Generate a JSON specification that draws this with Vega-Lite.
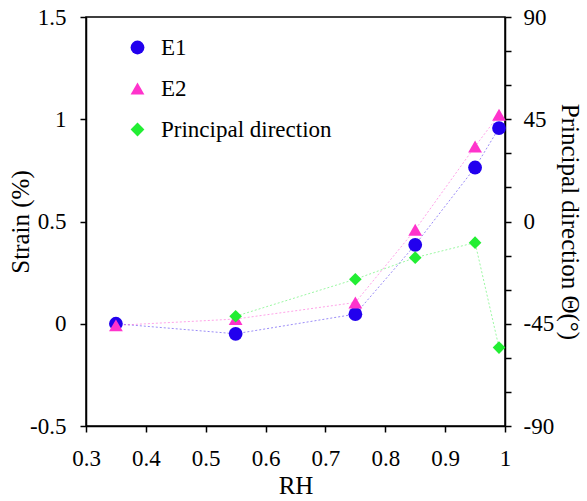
{
  "$schema": "https://vega.github.io/schema/vega-lite/v6.json",
  "width": 419,
  "height": 409,
  "autosize": {"type": "none"},
  "padding": {"left": 86, "top": 17, "right": 82, "bottom": 75},
  "background": "white",
  "config": {
    "font": "Liberation Serif",
    "view": {"stroke": "black", "strokeWidth": 1.5},
    "axis": {
      "grid": false,
      "domainColor": "black",
      "domainWidth": 1.5,
      "tickColor": "black",
      "tickWidth": 1.5,
      "tickSize": 6,
      "labelFont": "Liberation Serif",
      "labelFontSize": 23,
      "labelColor": "black",
      "labelFlush": false,
      "labelOverlap": false,
      "titleFont": "Liberation Serif",
      "titleFontSize": 25,
      "titleFontWeight": "normal",
      "titleColor": "black"
    },
    "legend": {
      "labelFont": "Liberation Serif",
      "labelFontSize": 23,
      "labelColor": "black",
      "labelLimit": 0
    }
  },
  "data": {
    "values": [
      {"rh": 0.35, "series": "E1", "value": 0.0},
      {"rh": 0.55, "series": "E1", "value": -0.049},
      {"rh": 0.75, "series": "E1", "value": 0.047},
      {"rh": 0.85, "series": "E1", "value": 0.386},
      {"rh": 0.95, "series": "E1", "value": 0.764},
      {"rh": 0.99, "series": "E1", "value": 0.957},
      {"rh": 0.35, "series": "E2", "value": -0.008},
      {"rh": 0.55, "series": "E2", "value": 0.023},
      {"rh": 0.75, "series": "E2", "value": 0.104},
      {"rh": 0.85, "series": "E2", "value": 0.46},
      {"rh": 0.95, "series": "E2", "value": 0.867},
      {"rh": 0.99, "series": "E2", "value": 1.022},
      {"rh": 0.55, "series": "Principal direction", "value": -41.7},
      {"rh": 0.75, "series": "Principal direction", "value": -25.4},
      {"rh": 0.85, "series": "Principal direction", "value": -15.9},
      {"rh": 0.95, "series": "Principal direction", "value": -9.3},
      {"rh": 0.99, "series": "Principal direction", "value": -55.5}
    ]
  },
  "encoding": {
    "x": {
      "field": "rh",
      "type": "quantitative",
      "title": "RH",
      "scale": {"domain": [0.3, 1], "nice": false, "zero": false},
      "axis": {
        "values": [0.3, 0.4, 0.5, 0.6, 0.7, 0.8, 0.9, 1],
        "labelExpr": "'' + datum.value",
        "labelPadding": 15,
        "titlePadding": 3
      }
    }
  },
  "layer": [
    {
      "transform": [{"filter": "datum.series != 'Principal direction'"}],
      "encoding": {
        "y": {
          "field": "value",
          "type": "quantitative",
          "title": "Strain (%)",
          "scale": {"domain": [-0.5, 1.5], "nice": false, "zero": false},
          "axis": {
            "orient": "left",
            "values": [-0.5, 0, 0.5, 1, 1.5],
            "labelExpr": "'' + datum.value",
            "labelPadding": 14,
            "titlePadding": -4
          }
        }
      },
      "layer": [
        {
          "transform": [{"filter": "datum.series == 'E1'"}],
          "mark": {"type": "line", "strokeWidth": 1, "strokeDash": [2, 2], "opacity": 0.45, "color": "#2200ee"},
          "encoding": {}
        },
        {
          "transform": [{"filter": "datum.series == 'E2'"}],
          "mark": {"type": "line", "strokeWidth": 1, "strokeDash": [2, 2], "opacity": 0.45, "color": "#ff33cc"},
          "encoding": {}
        },
        {
          "mark": {"type": "point", "filled": true, "opacity": 1, "size": 190},
          "encoding": {
            "color": {
              "field": "series",
              "type": "nominal",
              "scale": {"domain": ["E1", "E2", "Principal direction"], "range": ["#2200ee", "#ff33cc", "#22ee33"]},
              "legend": {
                "title": null,
                "orient": "none",
                "legendX": 40,
                "legendY": 19,
                "symbolSize": 190,
                "rowPadding": 17,
                "labelOffset": 12,
                "labelFont": "Liberation Serif",
                "labelFontSize": 23,
                "labelLimit": 0
              }
            },
            "shape": {
              "field": "series",
              "type": "nominal",
              "scale": {"domain": ["E1", "E2", "Principal direction"], "range": ["circle", "triangle-up", "diamond"]},
              "legend": {
                "title": null,
                "orient": "none",
                "legendX": 40,
                "legendY": 19,
                "symbolSize": 190,
                "rowPadding": 17,
                "labelOffset": 12,
                "labelFont": "Liberation Serif",
                "labelFontSize": 23,
                "labelLimit": 0
              }
            }
          }
        }
      ]
    },
    {
      "transform": [{"filter": "datum.series == 'Principal direction'"}],
      "encoding": {
        "y": {
          "field": "value",
          "type": "quantitative",
          "title": "Principal direction Θ(°)",
          "scale": {"domain": [-90, 90], "nice": false, "zero": false},
          "axis": {
            "orient": "right",
            "values": [-90, -75, -60, -45, -30, -15, 0, 15, 30, 45, 60, 75, 90],
            "labelExpr": "datum.value % 45 == 0 ? '' + datum.value : ''",
            "labelPadding": 12,
            "titlePadding": 3
          }
        }
      },
      "layer": [
        {
          "mark": {"type": "line", "strokeWidth": 1, "strokeDash": [2, 2], "opacity": 0.45, "color": "#22ee33"},
          "encoding": {}
        },
        {
          "mark": {"type": "point", "filled": true, "opacity": 1, "size": 160},
          "encoding": {
            "color": {
              "field": "series",
              "type": "nominal",
              "legend": {
                "title": null,
                "orient": "none",
                "legendX": 40,
                "legendY": 19,
                "symbolSize": 190,
                "rowPadding": 17,
                "labelOffset": 12,
                "labelFont": "Liberation Serif",
                "labelFontSize": 23,
                "labelLimit": 0
              }
            },
            "shape": {
              "field": "series",
              "type": "nominal",
              "legend": {
                "title": null,
                "orient": "none",
                "legendX": 40,
                "legendY": 19,
                "symbolSize": 190,
                "rowPadding": 17,
                "labelOffset": 12,
                "labelFont": "Liberation Serif",
                "labelFontSize": 23,
                "labelLimit": 0
              }
            }
          }
        }
      ]
    }
  ],
  "resolve": {"scale": {"y": "independent"}}
}
